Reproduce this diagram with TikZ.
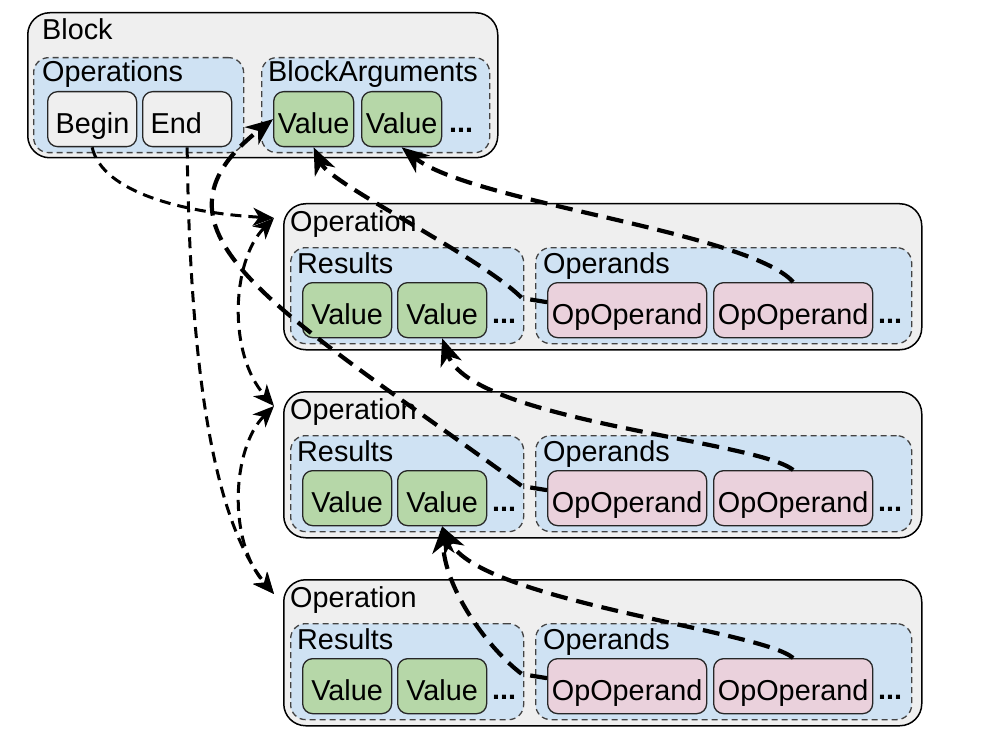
\documentclass[tikz,border=0pt]{standalone}
\usepackage{fontspec}
\setmainfont{Liberation Sans}
\usetikzlibrary{positioning, arrows.meta, calc}

\definecolor{shellgray}{HTML}{EFEFEF}
\definecolor{groupblue}{HTML}{CFE2F3}
\definecolor{valgreen}{HTML}{B6D7A8}
\definecolor{usepink}{HTML}{EAD1DC}
\definecolor{dashgray}{HTML}{434343}

\begin{document}
\begin{tikzpicture}[x=1pt, y=-1pt, font=\fontsize{28.8}{34}\selectfont,
    shell/.style={draw, line width=1.5pt, fill=shellgray, rounded corners=22pt, anchor=north west, inner sep=0},
    grp/.style={draw=dashgray, line width=1.3pt, dash pattern=on 6pt off 4pt, fill=groupblue, rounded corners=15pt, anchor=north west, inner sep=0},
    cell/.style={draw=black!85, line width=1.3pt, rounded corners=10pt, anchor=north west, minimum height=55pt, text height=29.6pt, text depth=0pt, inner sep=0},
    opcell/.style={cell, fill=shellgray, text width=73pt, align=left, inner xsep=8pt},
    valcell/.style={cell, fill=valgreen},
    usecell/.style={cell, fill=usepink, minimum width=159pt},
    lbl/.style={anchor=base west, inner sep=0},
    more/.style={anchor=base west, inner sep=0, font=\fontsize{28.8}{34}\selectfont\bfseries},
    hop/.style={line width=3pt, dash pattern=on 11pt off 7pt},
    hoptip/.tip={Stealth[length=21pt, width=18pt, inset=6pt]},
    link/.style={line width=4.2pt, dash pattern=on 17pt off 9pt, -{Stealth[length=27pt, width=22pt, inset=8pt]}}]

        \useasboundingbox (0,0) rectangle (982,746);

        %BLOCK
        \node[shell, minimum width=470pt, minimum height=145pt] (block) at (27,12) {};
        \node[lbl] (block-lbl) at (42,40) {Block};

        \node[grp, minimum width=210pt, minimum height=95pt] (ops) at (33,57) {};
        \node[lbl] (ops-lbl) at (42,82) {Operations};
        \node[opcell] (begin) at (47,91) {Begin};
        \node[opcell] (end) at (142,91) {End};

        \node[grp, minimum width=228pt, minimum height=95pt] (args) at (261,57) {};
        \node[lbl] (args-lbl) at (268,82) {BlockArguments};
        \node[valcell, minimum width=80pt] (args-v1) at (273,91) {Value};
        \node[valcell, minimum width=80pt] (args-v2) at (361,91) {Value};
        \node[more] (args-more) at (449,133) {...};

        % OPERATIONS (SAME LAYOUT, SHIFTED DOWN)
        \foreach \i/\y in {1/0, 2/188, 3/376} {
            \node[shell, minimum width=638pt, minimum height=146pt] (op\i) at (283,203+\y) {};
            \node[lbl] (op\i-lbl) at (290,231+\y) {Operation};
            \coordinate (op\i-port) at ($(op\i.north west)+(-9,15)$);

            \node[grp, minimum width=233pt, minimum height=96pt] (op\i-res) at (290,247+\y) {};
            \node[lbl] (op\i-res-lbl) at (297,273+\y) {Results};
            \node[valcell, minimum width=89pt] (op\i-v1) at (302,282+\y) {Value};
            \node[valcell, minimum width=89pt] (op\i-v2) at (397,282+\y) {Value};
            \node[more] (op\i-res-more) at (492,323+\y) {...};

            \node[grp, minimum width=376pt, minimum height=96pt] (op\i-opd) at (535,247+\y) {};
            \node[lbl] (op\i-opd-lbl) at (543,273+\y) {Operands};
            \node[usecell] (op\i-u1) at (547,282+\y) {OpOperand};
            \node[usecell] (op\i-u2) at (713,282+\y) {OpOperand};
            \node[more] (op\i-opd-more) at (878,323+\y) {...};
        }

        % ORDER OF OPERATIONS
        \draw[hop, -hoptip] (begin.south) .. controls +(10,45) and +(-90,-5) .. (op1-port);
        \draw[hop, -hoptip] (end.south) .. controls +(3,255) and +(-53,-64) .. (op3-port);
        \draw[hop, hoptip-hoptip] (op1-port) .. controls +(-42,42) and +(-47,-53) .. (op2-port);
        \draw[hop, hoptip-hoptip] (op2-port) .. controls +(-42,42) and +(-47,-53) .. (op3-port);

        % USES
        \draw[link] ([yshift=8pt]op1-u1.west) -- ++(-25,-4) .. controls +(-42,-42) and +(17,37) .. (args-v1.south);
        \draw[link] (op1-u2.north) .. controls +(-45,-50) and +(69,55) .. (args-v2.south);
        \draw[link] ([yshift=8pt]op2-u1.west) -- ++(-25,-4) .. controls +(-242,-176) and +(-143,112) .. (args-v1.west);
        \draw[link] (op2-u2.north) .. controls +(-37,-30) and +(29,83) .. (op1-v2.south);
        \draw[link] ([yshift=8pt]op3-u1.west) -- ++(-25,-4) .. controls +(-32,-24) and +(3,65) .. (op2-v2.south);
        \draw[link] (op3-u2.north) .. controls +(-32,-28) and +(38,75) .. (op2-v2.south);

    \end{tikzpicture}
\end{document}
